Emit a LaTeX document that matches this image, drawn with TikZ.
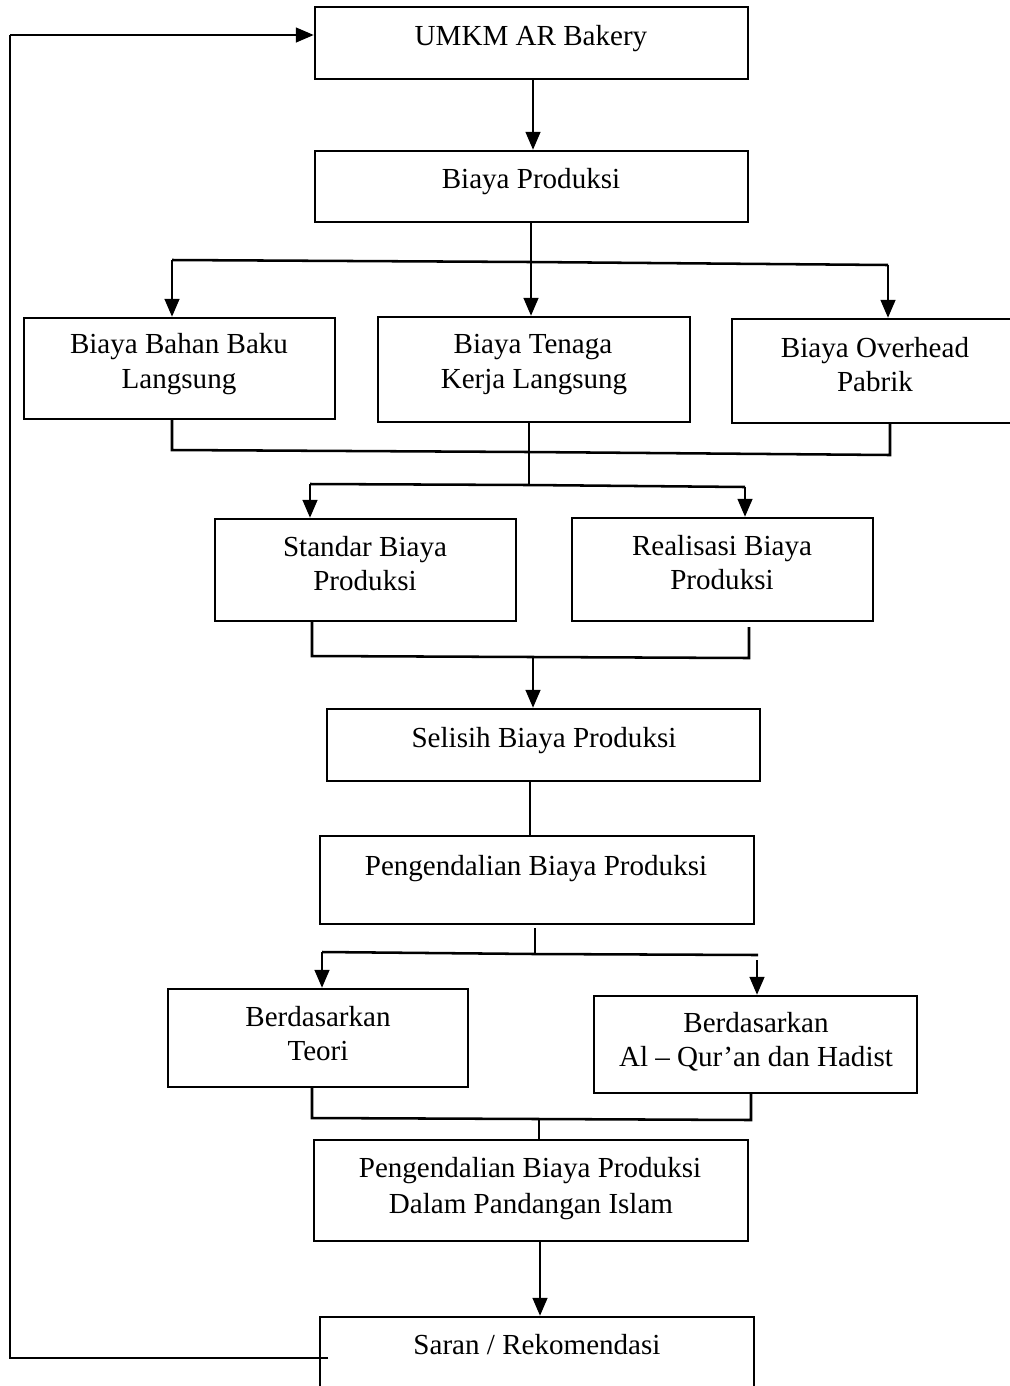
\documentclass[tikz,border=0pt]{standalone}
\usepackage{fontspec}
\setmainfont{Liberation Serif}
\usetikzlibrary{arrows.meta,fit}
\begin{document}
\begin{tikzpicture}[x=0.75pt,y=-0.75pt,
  box/.style={draw, line width=1.8pt, inner sep=0pt},
  lbl/.style={font=\fontsize{21.8}{26}\selectfont, inner sep=0pt, anchor=base},
  ln/.style={line width=1.9pt},
  thin/.style={line width=1pt},
  arr/.style={line width=1.9pt, -{Triangle[length=13.5pt,width=11pt]}}]
\useasboundingbox (0,0) rectangle (1010,1386);
\clip (0,0) rectangle (1010,1386);
\fill[white] (0,0) rectangle (1010,1386);

% boxes
\node[box, fit={(315,7) (748,79)}] (b1) {};
\node[box, fit={(315,151) (748,222)}] (b2) {};
\node[box, fit={(24,318) (335,419)}] (b3) {};
\node[box, fit={(378,317) (690,422)}] (b4) {};
\node[box, fit={(732,319) (1016,423)}] (b5) {};
\node[box, fit={(215,519) (516,621)}] (b6) {};
\node[box, fit={(572,518) (873,621)}] (b7) {};
\node[box, fit={(327,709) (760,781)}] (b8) {};
\node[box, fit={(320,836) (754,924)}] (b9) {};
\node[box, fit={(168,989) (468,1087)}] (b10) {};
\node[box, fit={(594,996) (917,1093)}] (b11) {};
\node[box, fit={(314,1140) (748,1241)}] (b12) {};
\node[box, fit={(320,1317) (754,1400)}] (b13) {};

% labels
\node[lbl] (t1) at (531,45) {UMKM AR Bakery};
\node[lbl] (t2) at (531,188) {Biaya Produksi};
\node[lbl] (t3a) at (179,353) {Biaya Bahan Baku};
\node[lbl] (t3b) at (179,388) {Langsung};
\node[lbl] (t4a) at (533,353) {Biaya Tenaga};
\node[lbl] (t4b) at (534,388) {Kerja Langsung};
\node[lbl] (t5a) at (875,357) {Biaya Overhead};
\node[lbl] (t5b) at (875,391) {Pabrik};
\node[lbl] (t6a) at (365,556) {Standar Biaya};
\node[lbl] (t6b) at (365,590) {Produksi};
\node[lbl] (t7a) at (722,555) {Realisasi Biaya};
\node[lbl] (t7b) at (722,589) {Produksi};
\node[lbl] (t8) at (544,747) {Selisih Biaya Produksi};
\node[lbl] (t9) at (536,875) {Pengendalian Biaya Produksi};
\node[lbl] (t10a) at (318,1026) {Berdasarkan};
\node[lbl] (t10b) at (318,1060) {Teori};
\node[lbl] (t11a) at (756,1032) {Berdasarkan};
\node[lbl] (t11b) at (756,1066) {Al -- Qur’an dan Hadist};
\node[lbl] (t12a) at (530,1177) {Pengendalian Biaya Produksi};
\node[lbl] (t12b) at (531,1213) {Dalam Pandangan Islam};
\node[lbl] (t13) at (537,1354) {Saran / Rekomendasi};

% junction coordinates
\coordinate (c12) at (533,100);
\coordinate (h1L) at (172,260);
\coordinate (h1C) at (531,262);
\coordinate (h1R) at (888,265);
\coordinate (m1L) at (172,450);
\coordinate (m1C) at (529,452);
\coordinate (m1R) at (890,455);
\coordinate (s2C) at (529,485);
\coordinate (s2L) at (310,484);
\coordinate (s2R) at (745,487);
\coordinate (m3L) at (312,656);
\coordinate (m3C) at (533,657);
\coordinate (m3R) at (749,658);
\coordinate (m3Rt) at (749,627);
\coordinate (c89) at (530,800);
\coordinate (p9t) at (535,928);
\coordinate (p9) at (535,954);
\coordinate (s4L) at (322,952);
\coordinate (s4R) at (758,955);
\coordinate (s4Rt) at (757,960);
\coordinate (m5L) at (312,1118);
\coordinate (m5C) at (539,1119);
\coordinate (m5R) at (751,1120);
\coordinate (c1213) at (540,1280);
\coordinate (fbS) at (328,1358);
\coordinate (fb1) at (10,1358);
\coordinate (fb2) at (10,35);

% connectors
\draw[arr] (b1.south -| c12) -- (b2.north -| c12);
\draw[ln] (b2.south -| h1C) -- (h1C);
\draw[ln] (h1L) -- (h1C) -- (h1R);
\draw[arr] (h1L) -- (h1L |- b3.north);
\draw[arr] (h1C) -- (h1C |- b4.north);
\draw[arr] (h1R) -- (h1R |- b5.north);

\draw[ln] (m1L |- b3.south) -- (m1L) -- (m1C) -- (m1R) -- (m1R |- b5.south);
\draw[thin] (b4.south -| m1C) -- (s2C);
\draw[ln] (s2L) -- (s2C) -- (s2R);
\draw[arr] (s2L) -- (s2L |- b6.north);
\draw[arr] (s2R) -- (s2R |- b7.north);

\draw[ln] (m3L |- b6.south) -- (m3L) -- (m3C) -- (m3R) -- (m3Rt);
\draw[arr] (m3C) -- (m3C |- b8.north);
\draw[ln] (b8.south -| c89) -- (b9.north -| c89);

\draw[thin] (p9t) -- (p9);
\draw[ln] (s4L) -- (p9) -- (s4R);
\draw[arr] (s4L) -- (s4L |- b10.north);
\draw[arr] (s4Rt) -- (s4Rt |- b11.north);

\draw[ln] (m5L |- b10.south) -- (m5L) -- (m5C) -- (m5R) -- (m5R |- b11.south);
\draw[thin] (m5C) -- (m5C |- b12.north);
\draw[arr] (b12.south -| c1213) -- (b13.north -| c1213);

\draw[ln] (fbS) -- (fb1) -- (fb2);
\draw[arr] (fb2) -- (fb2 -| b1.west);
\end{tikzpicture}
\end{document}
